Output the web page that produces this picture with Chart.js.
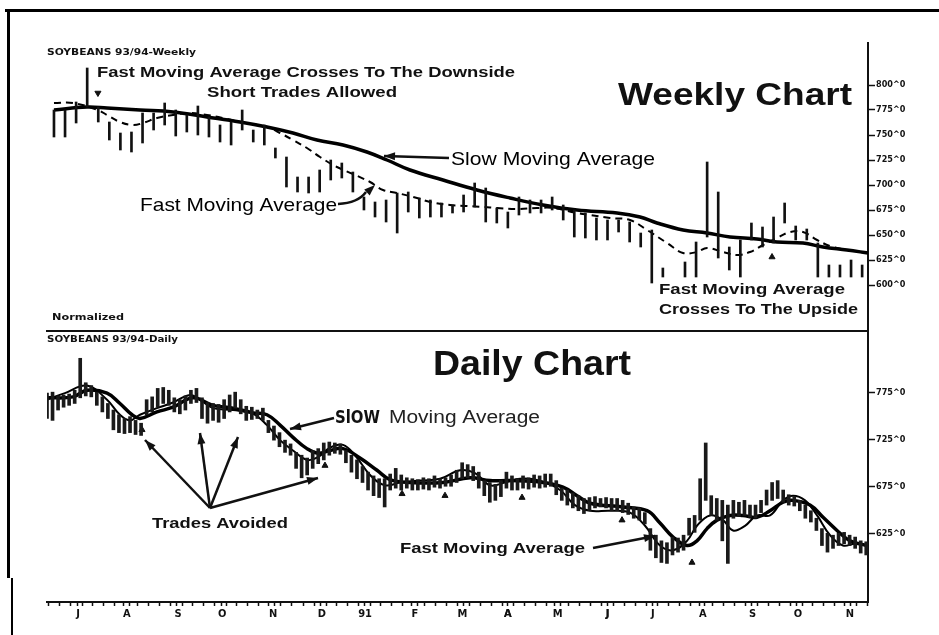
<!DOCTYPE html>
<html>
<head>
<meta charset="utf-8">
<script src="https://cdn.jsdelivr.net/npm/chart.js@4.4.1/dist/chart.umd.min.js"></script>
<style>
  html, body { margin: 0; padding: 0; background: #fff; }
  #page { position: relative; width: 939px; height: 635px; overflow: hidden; background: #fff; }
  canvas { position: absolute; left: 0; top: 0; }
  .rule { position: absolute; background: #000; }
</style>
</head>
<body>
<div id="page">
  <div class="rule" style="left:5px;top:9px;width:934px;height:3px"></div>
  <div class="rule" style="left:7px;top:9px;width:3px;height:569px"></div>
  <div class="rule" style="left:11px;top:578px;width:2px;height:57px"></div>
  <canvas id="weekly" width="939" height="635"></canvas>
  <canvas id="daily" width="939" height="635"></canvas>
</div>
<script>
// x axis is in weeks from the first weekly bar
const monthPos = [2.17, 6.59, 11.2, 15.2, 19.8, 24.2, 28.1, 32.6, 36.9, 41.0, 45.5, 50.0, 54.1, 58.6, 63.1, 67.2, 71.9]
const monthLabels = ['J', 'A', 'S', 'O', 'N', 'D', '91', 'F', 'M', 'A', 'M', 'J', 'J', 'A', 'S', 'O', 'N']
const xMin = -0.63, xMax = 73.53

// weekly bars, one per week (null = no bar)
const weeklyHigh = [775,775,783,817,778,763,752,753,772,772,782,775,770,779,768,760,763,775,755,760,
  737,728,708,708,715,725,722,713,688,683,685,692,693,687,685,682,680,690,702,697,
  677,673,688,685,685,688,680,675,672,667,665,665,663,652,655,617,null,623,643,723,
  693,638,645,662,658,668,682,659,656,642,620,620,625,620]
const weeklyLow = [748,748,762,778,763,745,735,733,742,755,760,749,753,750,748,743,740,755,743,740,
  727,698,693,692,693,705,707,693,675,668,663,652,673,667,668,668,672,673,678,663,
  662,657,670,672,672,675,665,648,647,645,645,653,643,638,602,608,null,608,608,648,
  627,615,608,645,638,642,662,645,645,608,608,608,608,608]

const weeklySlowX = [0,2.98,4.79,7.77,10.75,13.82,16.80,19.24,21.59,23.76,26.11,28.27,30.08,32.16,35.14,38.21,
  41.19,44.17,47.25,50.86,52.94,54.47,56.82,58.99,61.07,63.50,65.31,67.66,69.47,71.63,73.53]
const weeklySlowY = [775,778,777,775,773,768,763,758,752,745,740,733,725,715,705,695,
  687,680,675,672,668,662,655,652,648,646,643,642,638,635,632]

const weeklyFastX = [0,1.72,3.97,4.79,5.96,7.14,8.04,9.30,10.75,12.29,13.82,15.27,16.80,18.34,19.51,20.42,
  21.59,22.85,24.03,25.56,27.01,28.55,29.72,30.98,32.79,33.97,35.77,37.31,38.75,40.02,41.82,43.63,45.08,
  47.25,48.42,50.23,52.03,53.57,55.38,56.82,58.08,58.99,60.43,61.70,62.87,64.05,65.31,66.49,67.66,68.93,
  70.10,71.63,73.53]
const weeklyFastY = [782,782,775,770,763,760,762,767,770,772,770,767,763,760,757,752,
  745,737,728,718,711,703,695,692,687,683,680,679,678,677,676,677,677,
  672,670,667,665,655,642,632,633,637,633,630,633,640,647,653,653,645,
  639,635,632]

const weeklyArrowsDown = [{ x: 3.97, y: 792 }]
const weeklyArrowsUp = [{ x: 64.86, y: 628 }]

// daily bars sampled every half week starting at dailyStart
const dailyStart = -0.63, dailyStep = 0.5
const dailyHigh = [774,775,771,772,773,777,811,785,782,775,
  770,763,756,751,747,749,745,742,767,770,
  779,780,777,769,767,771,777,779,769,764,
  763,762,767,772,775,767,760,759,756,758,
  745,739,732,724,720,711,708,705,713,715,
  721,722,721,720,713,708,703,696,690,686,
  683,683,688,694,687,684,683,682,684,683,
  686,683,684,687,692,700,698,696,690,681,
  679,677,681,690,686,683,686,684,687,686,
  688,688,681,673,671,668,665,662,663,664,
  662,663,662,662,660,657,653,652,647,630,
  623,617,615,621,620,623,641,644,683,721,
  665,662,660,655,660,658,660,655,655,660,
  671,679,681,671,666,664,660,655,649,641,
  630,625,623,625,626,623,621,617,616]
const dailyLow = [747,745,756,759,761,763,769,771,770,761,
  754,747,735,732,731,732,730,729,751,754,
  759,763,761,754,752,756,763,764,747,742,
  745,743,747,754,758,752,745,746,747,745,
  732,724,717,711,708,694,684,687,694,699,
  703,708,710,709,700,690,683,679,671,665,
  663,653,671,673,671,673,671,671,672,671,
  674,673,675,675,679,683,684,681,673,665,
  658,660,664,673,671,671,673,672,674,673,
  674,675,666,660,655,652,649,646,649,652,
  653,652,649,649,647,645,641,639,635,607,
  599,594,593,602,605,607,623,626,639,660,
  644,639,617,593,641,643,644,642,641,647,
  655,660,662,658,655,654,649,641,637,628,
  612,605,609,612,614,612,609,604,602]

const dailySlowX = [-0.63,1.72,2.98,4.79,5.96,7.05,7.77,9.30,10.75,12.56,14.36,16.17,17.98,19.24,20.42,21.59,
  22.85,23.85,24.93,26.11,27.64,29.18,30.35,32.16,35.14,37.58,39.39,41.19,44.17,45.98,47.25,48.42,
  51.40,53.57,54.74,55.92,57.18,58.08,58.99,59.89,61.07,62.24,63.50,64.68,65.85,66.76,68.29,69.47,
  70.73,71.91,73.44]
const dailySlowY = [769,770,777,774,763,751,747,754,759,769,761,758,753,751,740,727,
  715,710,713,715,705,692,682,679,679,684,681,681,679,674,665,657,
  653,649,636,621,612,617,630,639,644,644,642,649,658,660,655,642,
  628,617,612]

const dailyFastX = [-0.63,0.99,2.98,4.79,5.96,6.87,7.77,9.30,10.75,12.29,13.19,14.36,16.17,17.98,19.24,20.42,
  21.59,22.85,23.85,24.93,26.11,27.19,28.55,29.90,31.26,33.06,34.87,36.68,38.03,39.39,40.74,42.10,
  43.90,45.71,47.06,48.42,50.23,52.03,53.39,54.74,55.92,57.18,58.08,59.26,60.43,61.34,62.42,63.50,
  64.68,65.85,66.76,67.84,68.93,70.10,71.27,72.36,73.44]
const dailyFastY = [767,774,782,767,751,745,751,758,764,772,767,758,756,752,740,724,
  713,703,706,716,719,708,687,676,679,681,683,692,689,676,679,683,
  681,671,655,649,649,647,633,612,607,617,633,644,639,628,633,644,
  644,660,665,660,644,623,612,614,612]

const dailyArrowsUp = [
  { x: 7.95, y: 735 }, { x: 24.48, y: 697 }, { x: 31.44, y: 667 }, { x: 35.32, y: 665 },
  { x: 42.28, y: 663 }, { x: 51.31, y: 639 }, { x: 57.63, y: 594 },
]

const weeklyTicks = [600, 625, 650, 675, 700, 725, 750, 775, 800]
const dailyTicks = [625, 675, 725, 775]

const INK = '#111'
const SANS = "'Liberation Sans', Arial, sans-serif"
const NARROW = "'Liberation Sans Narrow', 'DejaVu Sans Condensed', 'Liberation Sans', sans-serif"

const pts = (xs, ys) => xs.map((x, i) => ({ x, y: ys[i] }))

function fitText(ctx, str, x, baseline, width, font, color) {
    ctx.save()
    ctx.font = font
    ctx.fillStyle = color || INK
    ctx.textBaseline = 'alphabetic'
    ctx.textAlign = 'left'
    const w = ctx.measureText(str).width
    ctx.translate(x, baseline)
    ctx.scale(width / w, 1)
    ctx.fillText(str, 0, 0)
    ctx.restore()
}

function arrowHead(ctx, fromX, fromY, x, y, len, half) {
    const a = Math.atan2(y - fromY, x - fromX)
    ctx.beginPath()
    ctx.moveTo(x, y)
    ctx.lineTo(x - len * Math.cos(a) + half * Math.sin(a), y - len * Math.sin(a) - half * Math.cos(a))
    ctx.lineTo(x - len * Math.cos(a) - half * Math.sin(a), y - len * Math.sin(a) + half * Math.cos(a))
    ctx.closePath()
    ctx.fill()
}

function arrow(ctx, x1, y1, x2, y2, width) {
    ctx.save()
    ctx.strokeStyle = INK
    ctx.fillStyle = INK
    ctx.lineWidth = width
    ctx.beginPath()
    ctx.moveTo(x1, y1)
    ctx.lineTo(x2, y2)
    ctx.stroke()
    arrowHead(ctx, x1, y1, x2, y2, 11, 4)
    ctx.restore()
}

const weeklyNotes = {
    id: 'weeklyNotes',
    afterDraw(chart) {
        const ctx = chart.ctx
        fitText(ctx, 'SOYBEANS 93/94-Weekly', 47, 55, 149, `bold 9px ${NARROW}`)
        fitText(ctx, 'Fast Moving Average Crosses To The Downside', 97, 77, 418, `bold 15px ${SANS}`)
        fitText(ctx, 'Short Trades Allowed', 207, 97, 190, `bold 15px ${SANS}`)
        fitText(ctx, 'Weekly Chart', 618, 105, 234, `bold 31px ${SANS}`)
        fitText(ctx, 'Slow Moving Average', 451, 165, 204, `19px ${SANS}`, '#000')
        fitText(ctx, 'Fast Moving Average', 140, 211, 197, `19px ${SANS}`, '#000')
        fitText(ctx, 'Fast Moving Average', 659, 294, 186, `bold 15px ${SANS}`)
        fitText(ctx, 'Crosses To The Upside', 659, 314, 199, `bold 15px ${SANS}`)
        fitText(ctx, 'Normalized', 52, 320, 72, `bold 8px ${NARROW}`)

        arrow(ctx, 449, 158, 384, 156, 2.5)
        ctx.save()
        ctx.strokeStyle = INK
        ctx.fillStyle = INK
        ctx.lineWidth = 2.5
        ctx.beginPath()
        ctx.moveTo(338, 204)
        ctx.quadraticCurveTo(358, 203, 366, 192)
        ctx.stroke()
        arrowHead(ctx, 360, 199, 375, 185, 11, 4)
        ctx.restore()
    }
}

const dailyNotes = {
    id: 'dailyNotes',
    afterDraw(chart) {
        const ctx = chart.ctx
        fitText(ctx, 'SOYBEANS 93/94-Daily', 47, 342, 131, `bold 8px ${NARROW}`)
        fitText(ctx, 'Daily Chart', 433, 375, 198, `bold 35px ${SANS}`)
        fitText(ctx, 'SlOW', 335, 423, 45, `bold 18px ${NARROW}`)
        fitText(ctx, 'Moving Average', 389, 423, 151, `18px ${SANS}`, '#222')
        fitText(ctx, 'Trades Avoided', 152, 528, 136, `bold 15px ${SANS}`)
        fitText(ctx, 'Fast Moving Average', 400, 553, 185, `bold 15px ${SANS}`)

        arrow(ctx, 334, 418, 290, 429, 2.5)
        arrow(ctx, 210, 508, 145, 440, 2.5)
        arrow(ctx, 210, 508, 200, 433, 2.5)
        arrow(ctx, 210, 508, 238, 437, 2.5)
        arrow(ctx, 210, 508, 318, 478, 2.5)
        arrow(ctx, 593, 548, 655, 536, 2.5)
    }
}

const yAxis = (min, max, ticks) => ({
    position: 'right',
    min, max,
    afterBuildTicks: scale => { scale.ticks = ticks.map(value => ({ value })) },
    afterFit: scale => { scale.width = 71 },
    grid: { drawOnChartArea: false, drawTicks: true, tickLength: 7, tickColor: INK, tickWidth: 1.5 },
    border: { display: true, color: INK, width: 2 },
    ticks: { color: INK, padding: 1, font: { family: NARROW, size: 9, weight: 'bold' }, callback: v => `${v}^0` },
})

const baseOptions = {
    animation: false,
    responsive: false,
    devicePixelRatio: 1,
    plugins: { legend: { display: false }, tooltip: { enabled: false } },
}

const weeklyBars = weeklyHigh
    .map((high, i) => (high === null ? null : { x: i, y: [weeklyLow[i], high] }))
    .filter(Boolean)

new Chart(document.getElementById('weekly'), {
    type: 'bar',
    data: {
        datasets: [
            { type: 'bar', data: weeklyBars, backgroundColor: INK, barThickness: 2 },
            { type: 'line', data: pts(weeklySlowX, weeklySlowY), borderColor: '#000', borderWidth: 3.5, pointRadius: 0, tension: 0.4 },
            { type: 'line', data: pts(weeklyFastX, weeklyFastY), borderColor: '#000', borderWidth: 2, borderDash: [7, 5], pointRadius: 0, tension: 0.4 },
            { type: 'scatter', data: weeklyArrowsDown, pointStyle: 'triangle', rotation: 180, pointRadius: 3.5, backgroundColor: INK, borderColor: INK },
            { type: 'scatter', data: weeklyArrowsUp, pointStyle: 'triangle', pointRadius: 3.5, backgroundColor: INK, borderColor: INK },
        ]
    },
    options: {
        ...baseOptions,
        layout: { padding: { top: 43, left: 47, right: 0, bottom: 304 } },
        scales: {
            x: {
                type: 'linear', min: xMin, max: xMax, offset: false,
                afterFit: scale => { scale.height = 0 },
                ticks: { display: false },
                grid: { drawOnChartArea: false, drawTicks: false },
                border: { display: true, color: INK, width: 2 },
            },
            y: yAxis(554, 842, weeklyTicks),
        }
    },
    plugins: [weeklyNotes]
})

const dailyBars = dailyHigh.map((high, i) => ({ x: dailyStart + i * dailyStep, y: [dailyLow[i], high] }))

const weekMarks = []
for (let w = 0; w <= 73; w++) weekMarks.push(w)

new Chart(document.getElementById('daily'), {
    type: 'bar',
    data: {
        datasets: [
            { type: 'bar', data: dailyBars, backgroundColor: '#1a1a1a', barThickness: 3 },
            { type: 'line', data: pts(dailySlowX, dailySlowY), borderColor: '#000', borderWidth: 3.5, pointRadius: 0, tension: 0.4 },
            { type: 'line', data: pts(dailyFastX, dailyFastY), borderColor: '#000', borderWidth: 2, pointRadius: 0, tension: 0.4 },
            { type: 'scatter', data: dailyArrowsUp, pointStyle: 'triangle', pointRadius: 3.5, backgroundColor: INK, borderColor: INK },
        ]
    },
    options: {
        ...baseOptions,
        layout: { padding: { top: 331, left: 47, right: 0, bottom: 0 } },
        scales: {
            x: {
                type: 'linear', min: xMin, max: xMax, offset: false,
                afterBuildTicks: scale => {
                    scale.ticks = [...monthPos, ...weekMarks].sort((a, b) => a - b).map(value => ({ value }))
                },
                afterFit: scale => { scale.height = 33 },
                grid: { drawOnChartArea: false, drawTicks: true, tickLength: 4, tickColor: INK, tickWidth: 1.5 },
                border: { display: true, color: INK, width: 2 },
                ticks: {
                    autoSkip: false, maxRotation: 0, padding: 2, color: INK,
                    font: { family: NARROW, size: 11, weight: 'bold' },
                    callback: value => {
                        const i = monthPos.indexOf(value)
                        return i >= 0 ? monthLabels[i] : ''
                    }
                },
            },
            y: yAxis(552, 840, dailyTicks),
        }
    },
    plugins: [dailyNotes]
})
</script>
</body>
</html>
